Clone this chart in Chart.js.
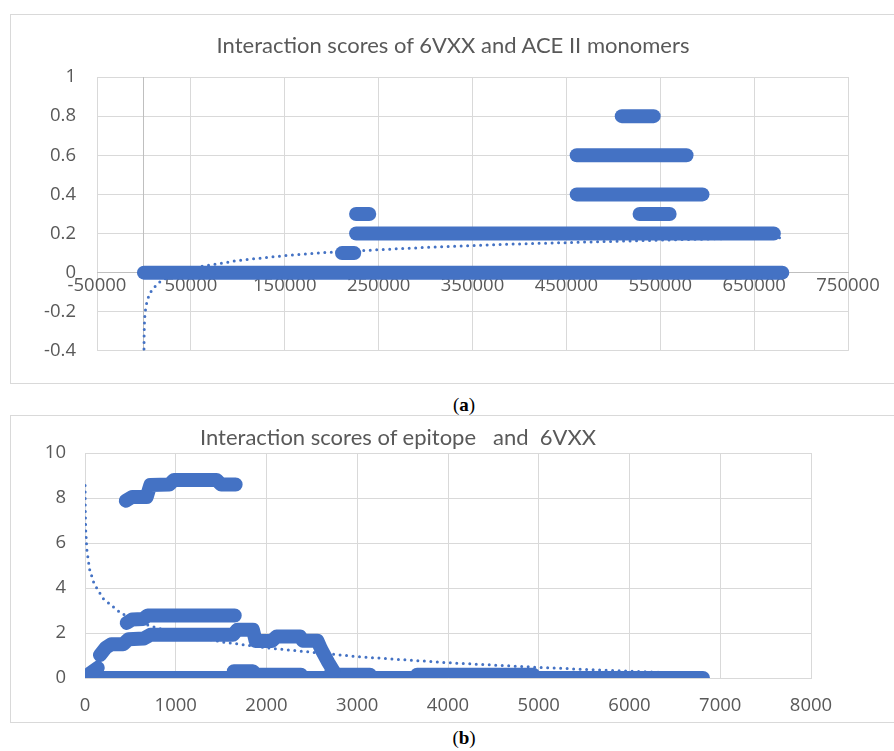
<!DOCTYPE html>
<html>
<head>
<meta charset="utf-8">
<title>Interaction scores</title>
<script src="https://cdn.jsdelivr.net/npm/chart.js@4.4.0/dist/chart.umd.min.js"></script>
<style>
  body { margin: 0; width: 894px; height: 751px; background: #fff; overflow: hidden; position: relative; }
  .box { position: absolute; left: 10px; width: 884px; border: 1px solid #d9d9d9; background: #fff; }
  #boxA { top: 14px; height: 368px; }
  #boxB { top: 415px; height: 306px; }
  .cap { position: absolute; left: 0; width: 928px; text-align: center; font-family: 'Liberation Serif', serif; font-size: 19px; line-height: 20px; color: #000; }
  .ttl { position: absolute; font-family: Lato, sans-serif; font-size: 22px; line-height: 26px; color: #595959; white-space: pre; }
  #titleA { left: 11px; width: 884px; top: 32px; text-align: center; }
  #titleB { left: 200px; top: 424px; }
</style>
</head>
<body>
<div class="box" id="boxA"><canvas id="chartA"></canvas></div>
<div class="ttl" id="titleA">Interaction scores of 6VXX and ACE II monomers</div>
<div class="cap" style="top:395px">(<b>a</b>)</div>
<div class="box" id="boxB"><canvas id="chartB"></canvas></div>
<div class="ttl" id="titleB">Interaction scores of epitope   and  6VXX</div>
<div class="cap" style="top:728px">(<b>b</b>)</div>
<script>
// ---- chart (a): 6VXX and ACE II monomers ----
const xTicksA = [-50000, 50000, 150000, 250000, 350000, 450000, 550000, 650000, 750000];
const yTicksA = [-0.4, -0.2, 0, 0.2, 0.4, 0.6, 0.8, 1];
const runLevelsA = [0, 0.1, 0.2, 0.3, 0.3, 0.4, 0.6, 0.8];
const runStartA = [0, 211000, 226000, 226000, 528000, 461000, 461000, 509000];
const runEndA = [680000, 224000, 671000, 240000, 560000, 595000, 578000, 543000];
const trendXA = [60, 200, 500, 1000, 2000, 4000, 8000, 15000, 30000, 60000, 100000, 150000, 200000, 300000, 400000, 500000, 600000, 680000];
const trendYA = [-0.39, -0.317, -0.261, -0.219, -0.176, -0.134, -0.092, -0.053, -0.011, 0.031, 0.062, 0.087, 0.105, 0.129, 0.147, 0.160, 0.172, 0.179];

// ---- chart (b): epitope and 6VXX ----
const xTicksB = [0, 1000, 2000, 3000, 4000, 5000, 6000, 7000, 8000];
const yTicksB = [0, 2, 4, 6, 8, 10];
const baseX = [0, 6810];
const baseY = [0, 0];
const originX = [10, 70, 140];
const originY = [0.05, 0.25, 0.45];
const lowMidX = [1640, 1850, 1880, 2380];
const lowMidY = [0.3, 0.3, 0.15, 0.15];
const lowTail1X = [2700, 3140];
const lowTail1Y = [0.15, 0.15];
const lowTail2X = [3660, 4940];
const lowTail2Y = [0.15, 0.15];
const midX = [165, 230, 290, 420, 480, 650, 720, 1630, 1680, 1850, 1880, 2060, 2110, 2370, 2400, 2560, 2600, 2680, 2740];
const midY = [1.02, 1.35, 1.5, 1.5, 1.72, 1.76, 1.92, 1.92, 2.15, 2.15, 1.65, 1.65, 1.84, 1.84, 1.66, 1.66, 1.3, 0.7, 0.3];
const upperX = [460, 520, 640, 690, 1650];
const upperY = [2.45, 2.6, 2.62, 2.78, 2.78];
const topX = [450, 520, 680, 720, 930, 980, 1450, 1500, 1660];
const topY = [7.88, 8.05, 8.05, 8.58, 8.6, 8.8, 8.8, 8.6, 8.6];
const trendXB = [1, 3, 8, 20, 50, 100, 200, 400, 700, 1000, 1500, 2000, 3000, 4000, 5000, 6000, 6800];
const trendYB = [8.56, 7.52, 6.58, 5.71, 4.84, 4.19, 3.53, 2.87, 2.34, 2.00, 1.61, 1.34, 0.95, 0.68, 0.47, 0.30, 0.18];

const blue = '#4472c4';
const textGrey = '#595959';
const gridGrey = '#d9d9d9';
const axisGrey = '#bfbfbf';
const tickFont = { family: "'Open Sans'", size: 18.5 };

function pts(xs, ys) {
  return xs.map((x, i) => ({ x: x, y: ys[i] }));
}
function run(data) {
  return {
    data: data, showLine: true, pointRadius: 0, borderColor: blue, backgroundColor: blue,
    borderWidth: 14, borderCapStyle: 'round', borderJoinStyle: 'round', tension: 0
  };
}
function trend(data) {
  return {
    data: data, showLine: true, pointRadius: 0, borderColor: blue,
    borderWidth: 3, borderDash: [0, 6.5], borderCapStyle: 'round', tension: 0
  };
}
function setTicks(list) {
  return axis => { axis.ticks = list.map(v => ({ value: v })); };
}

// (a) datasets: one thick line per horizontal run, trend last so it sits underneath
const datasetsA = runLevelsA.map((lvl, i) => run([{ x: runStartA[i], y: lvl }, { x: runEndA[i], y: lvl }]));
datasetsA.push(trend(pts(trendXA, trendYA)));

new Chart(document.getElementById('chartA'), {
  type: 'scatter',
  data: { datasets: datasetsA },
  options: {
    responsive: true,
    maintainAspectRatio: false,
    animation: false,
    layout: { padding: { left: 26, right: 47, top: 62, bottom: 7 } },
    plugins: {
      legend: { display: false },
      tooltip: { enabled: false },
      title: { display: false }
    },
    scales: {
      x: {
        type: 'linear',
        position: { y: 0 },
        min: -50000, max: 750000,
        afterBuildTicks: setTicks(xTicksA),
        afterFit: axis => { axis.height = 28; },
        ticks: { color: textGrey, font: tickFont, padding: 2, maxRotation: 0, autoSkip: false, callback: v => String(v) },
        grid: { color: gridGrey, drawTicks: false },
        border: { display: true, color: axisGrey }
      },
      y: {
        type: 'linear',
        min: -0.4, max: 1,
        afterBuildTicks: setTicks(yTicksA),
        afterFit: axis => { axis.width = 60; },
        ticks: { color: textGrey, font: tickFont, padding: 21, callback: v => String(v) },
        grid: { color: ctx => (ctx.tick && ctx.tick.value === 0) ? axisGrey : gridGrey, drawTicks: false },
        border: { display: false }
      },
      y2: {
        type: 'linear',
        axis: 'y',
        position: { x: 0 },
        min: -0.4, max: 1,
        ticks: { display: false },
        grid: { color: 'rgba(0,0,0,0)', drawTicks: false },
        border: { display: true, color: axisGrey }
      }
    }
  }
});

// (b) datasets
const datasetsB = [
  run(pts(topX, topY)),
  run(pts(upperX, upperY)),
  run(pts(midX, midY)),
  run(pts(originX, originY)),
  run(pts(lowMidX, lowMidY)),
  run(pts(lowTail1X, lowTail1Y)),
  run(pts(lowTail2X, lowTail2Y)),
  run(pts(baseX, baseY)),
  trend(pts(trendXB, trendYB))
];

new Chart(document.getElementById('chartB'), {
  type: 'scatter',
  data: { datasets: datasetsB },
  options: {
    responsive: true,
    maintainAspectRatio: false,
    animation: false,
    layout: { padding: { left: 24, right: 84, top: 37, bottom: 4 } },
    plugins: {
      legend: { display: false },
      tooltip: { enabled: false },
      title: { display: false }
    },
    scales: {
      x: {
        type: 'linear',
        min: 0, max: 8000,
        afterBuildTicks: setTicks(xTicksB),
        afterFit: axis => { axis.height = 40; },
        ticks: { color: textGrey, font: tickFont, padding: 17, maxRotation: 0, autoSkip: false, callback: v => String(v) },
        grid: { color: gridGrey, drawTicks: false },
        border: { display: true, color: gridGrey }
      },
      y: {
        type: 'linear',
        min: 0, max: 10,
        afterBuildTicks: setTicks(yTicksB),
        afterFit: axis => { axis.width = 50; },
        ticks: { color: textGrey, font: tickFont, padding: 19, callback: v => String(v) },
        grid: { color: gridGrey, drawTicks: false },
        border: { display: true, color: gridGrey }
      }
    }
  }
});
</script>
</body>
</html>
